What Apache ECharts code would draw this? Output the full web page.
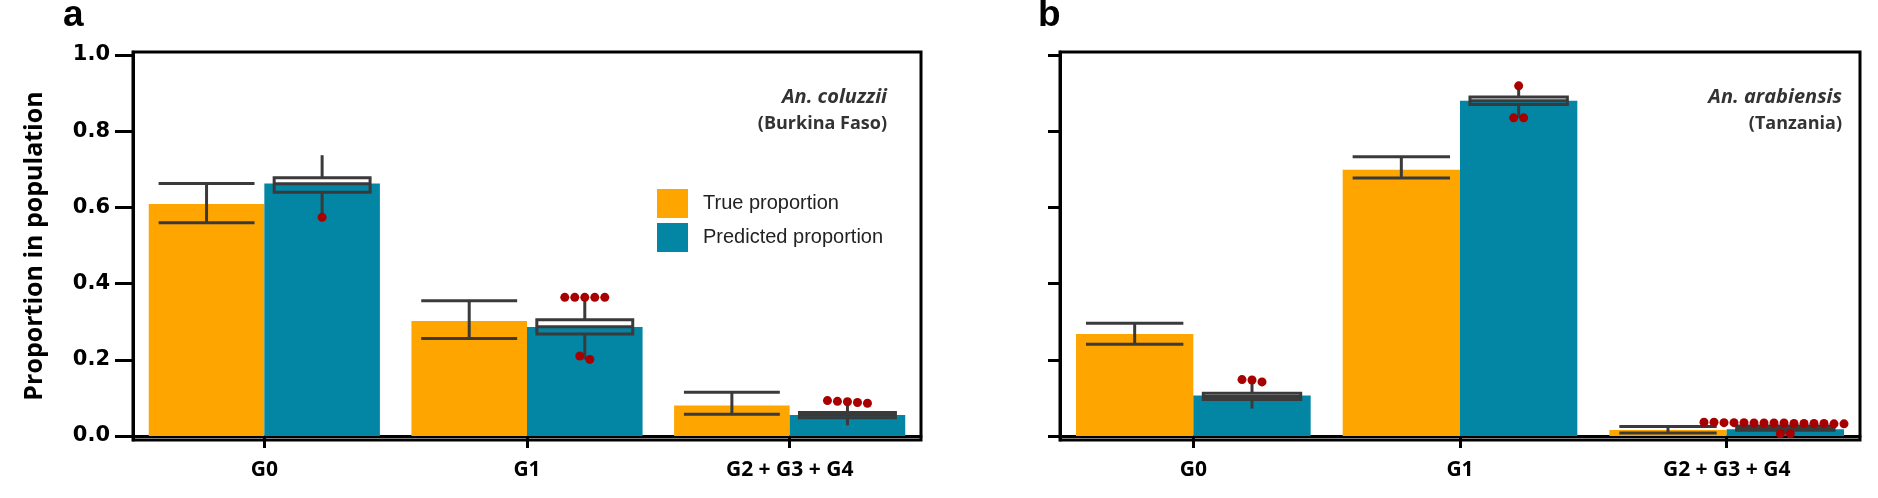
<!DOCTYPE html>
<html><head><meta charset="utf-8">
<script src="https://cdn.jsdelivr.net/npm/echarts@6/dist/echarts.min.js"></script>
<style>html,body{margin:0;padding:0;background:#fff}#c{width:1878px;height:498px}</style>
</head><body><div id="c"></div>
<script>
// ---------------- data ----------------
const categories = ['G0', 'G1', 'G2 + G3 + G4'];
const yTicks = [0, 0.2, 0.4, 0.6, 0.8, 1.0];
const seriesNames = ['True proportion', 'Predicted proportion'];

// Panel a: An. coluzzii (Burkina Faso)
const trueA = [0.609, 0.302, 0.080];
const trueErrA = [[0.560, 0.663], [0.256, 0.355], [0.057, 0.115]];
const predA = [0.663, 0.286, 0.055];
// [min, q1, median, q3, max]
const boxA = [[0.574, 0.640, 0.662, 0.678, 0.737], [0.201, 0.268, 0.287, 0.305, 0.364], [0.028, 0.048, 0.055, 0.062, 0.088]];
const outliersA = [[0.574], [0.364, 0.364, 0.364, 0.364, 0.364, 0.210, 0.201], [0.086, 0.090, 0.088, 0.091, 0.093]];

// Panel b: An. arabiensis (Tanzania)
const trueB = [0.268, 0.699, 0.016];
const trueErrB = [[0.241, 0.296], [0.677, 0.733], [0.008, 0.025]];
const predB = [0.106, 0.880, 0.018];
const boxB = [[0.072, 0.096, 0.104, 0.112, 0.147], [0.835, 0.870, 0.880, 0.890, 0.919], [0.006, 0.015, 0.020, 0.026, 0.035]];
const outliersB = [[0.148, 0.147, 0.142], [0.919, 0.835, 0.835], [0.033, 0.034, 0.032, 0.035, 0.033, 0.034, 0.036, 0.033, 0.035, 0.034, 0.032, 0.036, 0.034, 0.035, 0.033, 0.006, 0.006]];

// ---------------- style ----------------
const ORANGE = '#FFA500', TEAL = '#0385A4', DARK = '#3a3a3a', RED = '#A80000';
const CAT_GAP = 0.12, CAP_FRAC = 0.83, DOT_SPACING = 10;

const chart = echarts.init(document.getElementById('c'));

function barGeom(api, cat) {
  const cx = api.coord([cat, 0])[0];
  const band = api.size([1, 0])[0];
  const bw = band * (1 - CAT_GAP) / 2;
  return { cx, bw };
}

function errRender(params, api) {
  const cat = api.value(0);
  const { cx, bw } = barGeom(api, cat);
  const x = cx - bw / 2;
  const yl = api.coord([cat, api.value(1)])[1];
  const yh = api.coord([cat, api.value(2)])[1];
  const hw = bw * CAP_FRAC / 2;
  const st = { stroke: DARK, lineWidth: 3 };
  return { type: 'group', children: [
    { type: 'line', shape: { x1: x, y1: yl, x2: x, y2: yh }, style: st },
    { type: 'line', shape: { x1: x - hw, y1: yl, x2: x + hw, y2: yl }, style: st },
    { type: 'line', shape: { x1: x - hw, y1: yh, x2: x + hw, y2: yh }, style: st }
  ]};
}

function boxRender(params, api) {
  const cat = api.value(0);
  const { cx, bw } = barGeom(api, cat);
  const x = cx + bw / 2;
  const y = i => api.coord([cat, api.value(i)])[1];
  const ymin = y(1), q1 = y(2), med = y(3), q3 = y(4), ymax = y(5);
  const hw = bw * CAP_FRAC / 2;
  const st = { stroke: DARK, lineWidth: 3, fill: null };
  return { type: 'group', children: [
    { type: 'line', shape: { x1: x, y1: ymin, x2: x, y2: q1 }, style: st },
    { type: 'line', shape: { x1: x, y1: q3, x2: x, y2: ymax }, style: st },
    { type: 'rect', shape: { x: x - hw, y: q3, width: hw * 2, height: q1 - q3 }, style: { stroke: DARK, lineWidth: 3, fill: 'none' } },
    { type: 'line', shape: { x1: x - hw, y1: med, x2: x + hw, y2: med }, style: st }
  ]};
}

function dotRender(params, api) {
  const cat = api.value(0);
  const { cx, bw } = barGeom(api, cat);
  const p = api.coord([cat, api.value(1)]);
  const center = cx + bw / 2;
  const n = api.value(3);
  // keep a wide swarm inside the right edge of the bar
  const rightmost = center + (n - 1) / 2 * DOT_SPACING;
  const shift = Math.min(0, (cx + bw) - rightmost);
  return { type: 'circle', shape: { cx: center + shift + api.value(2) * DOT_SPACING, cy: p[1], r: 4.5 }, style: { fill: RED } };
}

// simple swarm: group close values and spread them horizontally
function swarm(outliers) {
  const out = [];
  outliers.forEach((vals, cat) => {
    const sorted = vals.slice().sort((a, b) => b - a);
    let groups = [];
    sorted.forEach(v => {
      const g = groups[groups.length - 1];
      if (g && Math.abs(g[0] - v) < 0.015) g.push(v); else groups.push([v]);
    });
    groups.forEach(g => g.forEach((v, i) => out.push([cat, v, i - (g.length - 1) / 2, g.length])));
  });
  return out;
}

const errData = arr => arr.map((e, i) => [i, e[0], e[1]]);
const boxData = arr => arr.map((b, i) => [i].concat(b));

const Y_MIN = -0.0105, Y_MAX = 1.0079;

function yAxis(gi, showLabels, tickLen) {
  return {
    type: 'value', gridIndex: gi, min: Y_MIN, max: Y_MAX,
    axisLine: { show: true, lineStyle: { color: '#000', width: 3 } },
    axisTick: { show: true, length: tickLen, customValues: yTicks, lineStyle: { color: '#000', width: 3 } },
    axisLabel: { show: showLabels, customValues: yTicks, margin: 23, formatter: v => v.toFixed(1),
      fontFamily: 'DejaVu Sans', fontWeight: 'bold', fontSize: 21, color: '#000' },
    splitLine: { show: false },
    name: showLabels ? 'Proportion in population' : '',
    nameLocation: 'middle', nameGap: 86,
    nameTextStyle: { fontFamily: 'Open Sans', fontWeight: 'bold', fontSize: 25, color: '#000' }
  };
}
function xAxis(gi) {
  return {
    type: 'category', gridIndex: gi, data: categories,
    axisLine: { show: true, lineStyle: { color: '#000', width: 3 } },
    axisTick: { show: true, alignWithLabel: true, length: 12, lineStyle: { color: '#000', width: 3 } },
    axisLabel: { margin: 20, fontFamily: 'Open Sans', fontWeight: 'bold', fontSize: 21, color: '#000' }
  };
}

function panelSeries(gi, tv, te, pv, bx, ol) {
  return [
    { name: seriesNames[0], type: 'bar', xAxisIndex: gi, yAxisIndex: gi, data: tv, barGap: '0%', barCategoryGap: (CAT_GAP * 100) + '%', itemStyle: { color: ORANGE }, silent: true },
    { name: seriesNames[1], type: 'bar', xAxisIndex: gi, yAxisIndex: gi, data: pv, barGap: '0%', barCategoryGap: (CAT_GAP * 100) + '%', itemStyle: { color: TEAL }, silent: true },
    { type: 'custom', xAxisIndex: gi, yAxisIndex: gi, data: errData(te), renderItem: errRender, z: 5, silent: true },
    { type: 'custom', xAxisIndex: gi, yAxisIndex: gi, data: boxData(bx), renderItem: boxRender, z: 5, silent: true },
    { type: 'custom', xAxisIndex: gi, yAxisIndex: gi, data: swarm(ol), renderItem: dotRender, z: 6, silent: true }
  ];
}

const option = {
  animation: false,
  backgroundColor: '#fff',
  grid: [
    { left: 133, top: 52, width: 788, height: 388, show: true, borderColor: '#000', borderWidth: 3 },
    { left: 1060, top: 52, width: 800, height: 388, show: true, borderColor: '#000', borderWidth: 3 }
  ],
  xAxis: [xAxis(0), xAxis(1)],
  yAxis: [yAxis(0, true, 18), yAxis(1, false, 12)],
  legend: {
    data: seriesNames, orient: 'vertical', left: 652, top: 184,
    itemWidth: 31, itemHeight: 29, itemGap: 5, icon: 'rect',
    textStyle: { fontFamily: 'Liberation Sans', fontSize: 20, color: '#222', padding: [0, 0, 0, 10] },
    selectedMode: false
  },
  title: [
    { text: 'a', left: 58, top: -8, textStyle: { fontFamily: 'Liberation Sans', fontWeight: 'bold', fontSize: 37, color: '#000' } },
    { text: 'b', left: 1033, top: -8, textStyle: { fontFamily: 'Liberation Sans', fontWeight: 'bold', fontSize: 37, color: '#000' } }
  ],
  graphic: [
    { type: 'text', right: 1878 - 887, top: 87, style: { text: 'An. coluzzii', font: 'italic bold 20px "Open Sans"', fill: '#333' } },
    { type: 'text', right: 1878 - 887, top: 115, style: { text: '(Burkina Faso)', font: 'bold 18px "Open Sans"', fill: '#333' } },
    { type: 'text', right: 1878 - 1842, top: 87, style: { text: 'An. arabiensis', font: 'italic bold 20px "Open Sans"', fill: '#333' } },
    { type: 'text', right: 1878 - 1842, top: 115, style: { text: '(Tanzania)', font: 'bold 18px "Open Sans"', fill: '#333' } }
  ],
  series: [].concat(
    panelSeries(0, trueA, trueErrA, predA, boxA, outliersA),
    panelSeries(1, trueB, trueErrB, predB, boxB, outliersB)
  )
};
chart.setOption(option);
</script></body></html>
